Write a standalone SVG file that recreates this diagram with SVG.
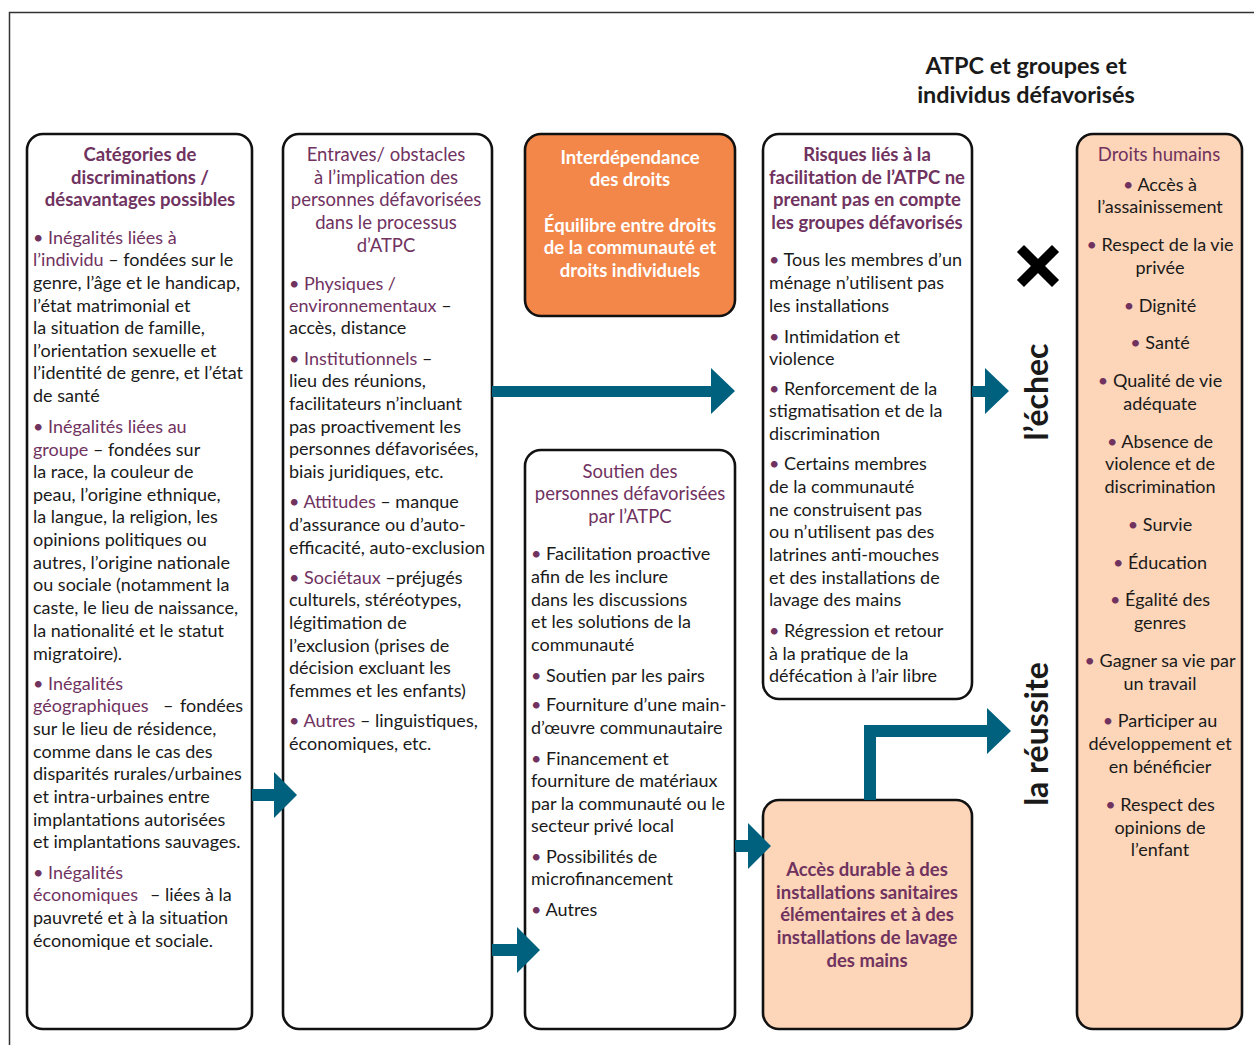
<svg xmlns="http://www.w3.org/2000/svg" width="1254" height="1045" viewBox="0 0 1254 1045">
<style>
text{font-family:Lato,"Noto Sans","Liberation Sans",sans-serif;font-size:18px;fill:#1a1a1a}
.h{font-size:18.5px}
.p{fill:#70325F}
.w{fill:#ffffff}
.bd{font-weight:bold}
.c{text-anchor:middle}
.box{fill:#ffffff;stroke:#111111;stroke-width:2.6}
.peach{fill:#FDD5B8}
.orange{fill:#F38649}
.arrow{fill:#00617F}
.title{font-size:23.4px;font-weight:bold}
.rot{font-size:32px;font-weight:bold;text-anchor:middle}
</style>
<rect width="1254" height="1045" fill="#ffffff"/>
<path d="M9.5,1045 V12.5 H1254" fill="none" stroke="#333333" stroke-width="1.5"/>

<g id="title">
<text class="title c" x="1026" y="74">ATPC et groupes et</text>
<text class="title c" x="1026" y="103">individus défavorisés</text>
</g>

<g id="fail-mark">
<path d="M1024,252 L1052,280 M1052,252 L1024,280" stroke="#000000" stroke-width="10" stroke-linecap="square"/>
</g>

<g id="label-echec">
<text class="rot" transform="translate(1048,392) rotate(-90)">l’échec</text>
</g>
<g id="label-reussite">
<text class="rot" transform="translate(1048,734) rotate(-90)">la réussite</text>
</g>

<g id="categories">
<rect class="box" x="27" y="134" width="225" height="895" rx="16"/>
<text class="h p bd c" x="140" y="161">Catégories de</text>
<text class="h p bd c" x="140" y="184">discriminations /</text>
<text class="h p bd c" x="140" y="206">désavantages possibles</text>
<text x="33" y="244"><tspan class="p">• Inégalités liées à</tspan></text>
<text x="33" y="266"><tspan class="p">l’individu</tspan> – fondées sur le</text>
<text x="33" y="289">genre, l’âge et le handicap,</text>
<text x="33" y="312">l’état matrimonial et</text>
<text x="33" y="334">la situation de famille,</text>
<text x="33" y="357">l’orientation sexuelle et</text>
<text x="33" y="379">l’identité de genre, et l’état</text>
<text x="33" y="402">de santé</text>
<text x="33" y="433"><tspan class="p">• Inégalités liées au</tspan></text>
<text x="33" y="456"><tspan class="p">groupe</tspan> – fondées sur</text>
<text x="33" y="478">la race, la couleur de</text>
<text x="33" y="501">peau, l’origine ethnique,</text>
<text x="33" y="523">la langue, la religion, les</text>
<text x="33" y="546">opinions politiques ou</text>
<text x="33" y="569">autres, l’origine nationale</text>
<text x="33" y="591">ou sociale (notamment la</text>
<text x="33" y="614">caste, le lieu de naissance,</text>
<text x="33" y="637">la nationalité et le statut</text>
<text x="33" y="660">migratoire).</text>
<text x="33" y="690"><tspan class="p">• Inégalités</tspan></text>
<text x="33" y="712"><tspan class="p">géographiques</tspan><tspan x="163">–</tspan><tspan x="180">fondées</tspan></text>
<text x="33" y="735">sur le lieu de résidence,</text>
<text x="33" y="758">comme dans le cas des</text>
<text x="33" y="780">disparités rurales/urbaines</text>
<text x="33" y="803">et intra-urbaines entre</text>
<text x="33" y="826">implantations autorisées</text>
<text x="33" y="848">et implantations sauvages.</text>
<text x="33" y="879"><tspan class="p">• Inégalités</tspan></text>
<text x="33" y="901"><tspan class="p">économiques</tspan><tspan x="150">–</tspan><tspan x="165">liées à la</tspan></text>
<text x="33" y="924">pauvreté et à la situation</text>
<text x="33" y="947">économique et sociale.</text>
</g>

<g id="entraves">
<rect class="box" x="283" y="134" width="209" height="895" rx="16"/>
<text class="h p c" x="386" y="161">Entraves/ obstacles</text>
<text class="h p c" x="386" y="184">à l’implication des</text>
<text class="h p c" x="386" y="206">personnes défavorisées</text>
<text class="h p c" x="386" y="229">dans le processus</text>
<text class="h p c" x="386" y="252">d’ATPC</text>
<text x="289" y="290"><tspan class="p">• Physiques /</tspan></text>
<text x="289" y="312"><tspan class="p">environnementaux</tspan> –</text>
<text x="289" y="334">accès, distance</text>
<text x="289" y="365"><tspan class="p">• Institutionnels</tspan> –</text>
<text x="289" y="387">lieu des réunions,</text>
<text x="289" y="410">facilitateurs n’incluant</text>
<text x="289" y="433">pas proactivement les</text>
<text x="289" y="455">personnes défavorisées,</text>
<text x="289" y="478">biais juridiques, etc.</text>
<text x="289" y="508"><tspan class="p">• Attitudes</tspan> – manque</text>
<text x="289" y="531">d’assurance ou d’auto-</text>
<text x="289" y="554">efficacité, auto-exclusion</text>
<text x="289" y="584"><tspan class="p">• Sociétaux</tspan> –préjugés</text>
<text x="289" y="606">culturels, stéréotypes,</text>
<text x="289" y="629">légitimation de</text>
<text x="289" y="652">l’exclusion (prises de</text>
<text x="289" y="674">décision excluant les</text>
<text x="289" y="697">femmes et les enfants)</text>
<text x="289" y="727"><tspan class="p">• Autres</tspan> – linguistiques,</text>
<text x="289" y="750">économiques, etc.</text>
</g>

<g id="interdependance">
<rect class="box orange" x="525" y="134" width="210" height="182" rx="16"/>
<text class="h w bd c" x="630" y="164">Interdépendance</text>
<text class="h w bd c" x="630" y="186">des droits</text>
<text class="h w bd c" x="630" y="232">Équilibre entre droits</text>
<text class="h w bd c" x="630" y="254">de la communauté et</text>
<text class="h w bd c" x="630" y="277">droits individuels</text>
</g>

<g id="soutien">
<rect class="box" x="525" y="450" width="210" height="579" rx="16"/>
<text class="h p c" x="630" y="478">Soutien des</text>
<text class="h p c" x="630" y="500">personnes défavorisées</text>
<text class="h p c" x="630" y="523">par l’ATPC</text>
<text x="531" y="560"><tspan class="p">•</tspan> Facilitation proactive</text>
<text x="531" y="583">afin de les inclure</text>
<text x="531" y="606">dans les discussions</text>
<text x="531" y="628">et les solutions de la</text>
<text x="531" y="651">communauté</text>
<text x="531" y="682"><tspan class="p">•</tspan> Soutien par les pairs</text>
<text x="531" y="711"><tspan class="p">•</tspan> Fourniture d’une main-</text>
<text x="531" y="734">d’œuvre communautaire</text>
<text x="531" y="765"><tspan class="p">•</tspan> Financement et</text>
<text x="531" y="787">fourniture de matériaux</text>
<text x="531" y="810">par la communauté ou le</text>
<text x="531" y="832">secteur privé local</text>
<text x="531" y="863"><tspan class="p">•</tspan> Possibilités de</text>
<text x="531" y="885">microfinancement</text>
<text x="531" y="916"><tspan class="p">•</tspan> Autres</text>
</g>

<g id="risques">
<rect class="box" x="763" y="134" width="209" height="565" rx="16"/>
<text class="h p bd c" x="867" y="161">Risques liés à la</text>
<text class="h p bd c" x="867" y="184">facilitation de l’ATPC ne</text>
<text class="h p bd c" x="867" y="206">prenant pas en compte</text>
<text class="h p bd c" x="867" y="229">les groupes défavorisés</text>
<text x="769" y="266"><tspan class="p">•</tspan> Tous les membres d’un</text>
<text x="769" y="289">ménage n’utilisent pas</text>
<text x="769" y="312">les installations</text>
<text x="769" y="343"><tspan class="p">•</tspan> Intimidation et</text>
<text x="769" y="365">violence</text>
<text x="769" y="395"><tspan class="p">•</tspan> Renforcement de la</text>
<text x="769" y="417">stigmatisation et de la</text>
<text x="769" y="440">discrimination</text>
<text x="769" y="470"><tspan class="p">•</tspan> Certains membres</text>
<text x="769" y="493">de la communauté</text>
<text x="769" y="516">ne construisent pas</text>
<text x="769" y="538">ou n’utilisent pas des</text>
<text x="769" y="561">latrines anti-mouches</text>
<text x="769" y="584">et des installations de</text>
<text x="769" y="606">lavage des mains</text>
<text x="769" y="637"><tspan class="p">•</tspan> Régression et retour</text>
<text x="769" y="660">à la pratique de la</text>
<text x="769" y="682">défécation à l’air libre</text>
</g>

<g id="acces-durable">
<rect class="box peach" x="763" y="800" width="209" height="229" rx="16"/>
<text class="h p bd c" x="867" y="876">Accès durable à des</text>
<text class="h p bd c" x="867" y="899">installations sanitaires</text>
<text class="h p bd c" x="867" y="921">élémentaires et à des</text>
<text class="h p bd c" x="867" y="944">installations de lavage</text>
<text class="h p bd c" x="867" y="967">des mains</text>
</g>

<g id="droits-humains">
<rect class="box peach" x="1077" y="134" width="165" height="895" rx="16"/>
<text class="h p c" x="1159" y="161">Droits humains</text>
<text class="c" x="1160" y="191"><tspan class="p">•</tspan> Accès à</text>
<text class="c" x="1160" y="213">l’assainissement</text>
<text class="c" x="1160" y="251"><tspan class="p">•</tspan> Respect de la vie</text>
<text class="c" x="1160" y="274">privée</text>
<text class="c" x="1160" y="312"><tspan class="p">•</tspan> Dignité</text>
<text class="c" x="1160" y="349"><tspan class="p">•</tspan> Santé</text>
<text class="c" x="1160" y="387"><tspan class="p">•</tspan> Qualité de vie</text>
<text class="c" x="1160" y="410">adéquate</text>
<text class="c" x="1160" y="448"><tspan class="p">•</tspan> Absence de</text>
<text class="c" x="1160" y="470">violence et de</text>
<text class="c" x="1160" y="493">discrimination</text>
<text class="c" x="1160" y="531"><tspan class="p">•</tspan> Survie</text>
<text class="c" x="1160" y="569"><tspan class="p">•</tspan> Éducation</text>
<text class="c" x="1160" y="606"><tspan class="p">•</tspan> Égalité des</text>
<text class="c" x="1160" y="629">genres</text>
<text class="c" x="1160" y="667"><tspan class="p">•</tspan> Gagner sa vie par</text>
<text class="c" x="1160" y="690">un travail</text>
<text class="c" x="1160" y="727"><tspan class="p">•</tspan> Participer au</text>
<text class="c" x="1160" y="750">développement et</text>
<text class="c" x="1160" y="773">en bénéficier</text>
<text class="c" x="1160" y="811"><tspan class="p">•</tspan> Respect des</text>
<text class="c" x="1160" y="834">opinions de</text>
<text class="c" x="1160" y="856">l’enfant</text>
</g>

<g id="connectors">
<polygon class="arrow" points="492,386 711,386 711,368 735,391 711,414 711,397 492,397"/>
<polygon class="arrow" points="972,386 985,386 985,368 1009,391 985,414 985,397 972,397"/>
<polygon class="arrow" points="252,789 274,789 274,772 297,795 274,818 274,801 252,801"/>
<polygon class="arrow" points="492,944 517,944 517,927 540,950 517,973 517,956 492,956"/>
<polygon class="arrow" points="735,840 748,840 748,823 771,846 748,869 748,852 735,852"/>
<polygon class="arrow" points="864,800 864,725 987,725 987,708 1011,731 987,754 987,737 876,737 876,800"/>
</g>
</svg>
